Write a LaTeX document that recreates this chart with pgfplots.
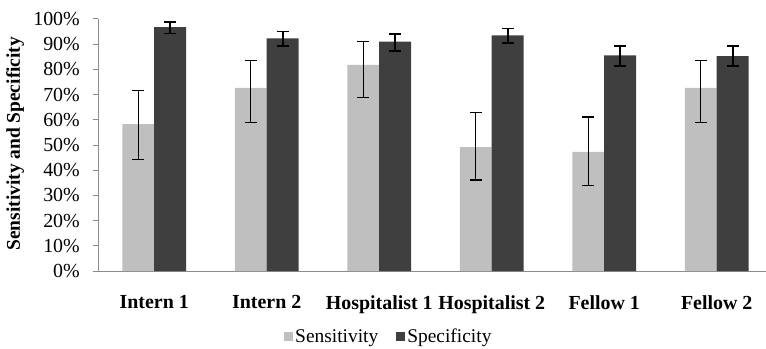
\documentclass[border=0pt]{standalone}
\usepackage{pgfplots}
\usepackage{pgfplotstable}
\pgfplotsset{compat=1.18}
\usepackage{fontspec}
\setmainfont{Liberation Serif}
\definecolor{sensc}{HTML}{BFBFBF}
\definecolor{specc}{HTML}{3F3F3F}
\definecolor{axc}{HTML}{8C8C8C}
\pgfplotstableread{
x   sens sp   sm   spec pp  pm
0.5 58.3 13.2 14.1 96.8 1.9 2.5
1.5 72.7 11.0 13.7 92.3 2.7 3.0
2.5 81.8 9.2  13.0 91.0 3.0 3.6
3.5 49.2 13.8 13.1 93.5 2.7 3.1
4.5 47.3 13.8 13.2 85.6 3.7 4.3
5.5 72.7 11.0 13.7 85.3 4.0 4.0
}\datatable
\begin{document}
\begin{tikzpicture}
\begin{axis}[
  name=ax,
  scale only axis,
  width=668bp, height=252bp,
  xmin=0, xmax=5.938, ymin=0, ymax=100,
  axis x line*=bottom, axis y line*=left,
  axis line style={axc, line width=1pt, -},
  ybar, bar width=0.284,
  xtick={0.5,1.5,2.5,3.5,4.5,5.5},
  xticklabels={Intern 1,Intern 2,Hospitalist 1,Hospitalist 2,Fellow 1,Fellow 2},
  minor xtick={0,1,2,3,4,5},
  x tick style={draw=none},
  minor x tick style={axc, line width=1pt},
  minor tick length=5bp,
  ytick={0,10,...,100},
  yticklabels={0\%,10\%,20\%,30\%,40\%,50\%,60\%,70\%,80\%,90\%,100\%},
  y tick style={axc, line width=1pt},
  major tick length=5bp,
  tick align=outside,
  xticklabel style={font=\fontsize{20}{22}\selectfont\bfseries, inner sep=0pt, yshift=-19bp},
  yticklabel style={font=\fontsize{20}{22}\selectfont, inner sep=0pt, xshift=-13bp},
  ylabel={Sensitivity and Specificity},
  ylabel style={font=\fontsize{19.5}{21}\selectfont\bfseries, at={(axis description cs:-0.124,0.505)}, anchor=center},
  legend style={at={(axis description cs:0.274,-0.26)}, anchor=west, draw=none, fill=none,
    legend columns=2, font=\fontsize{19.5}{21}\selectfont,
    /tikz/every even column/.append style={column sep=16bp}},
  legend image code/.code={\fill[#1] (0bp,-4.5bp) rectangle (9bp,4.5bp);},
  error bars/y dir=both, error bars/y explicit,
]
\addplot[fill=sensc, draw=none, bar shift=0pt,
  error bars/error bar style={black, line width=1.1pt},
  error bars/error mark options={black, rotate=90, mark size=6bp, line width=1.1pt}]
  table[x expr=\thisrow{x}-0.142, y=sens, y error plus=sp, y error minus=sm]{\datatable};
\addlegendentry{Sensitivity}
\addplot[fill=specc, draw=none, bar shift=0pt,
  error bars/error bar style={black, line width=1.6pt},
  error bars/error mark options={black, rotate=90, mark size=6bp, line width=1.6pt}]
  table[x expr=\thisrow{x}+0.142, y=spec, y error plus=pp, y error minus=pm]{\datatable};
\addlegendentry{Specificity}
\end{axis}
\pgfresetboundingbox
\path (ax.south west) ++(-98bp,-78bp) rectangle ++(766bp,349bp);
\end{tikzpicture}
\end{document}
